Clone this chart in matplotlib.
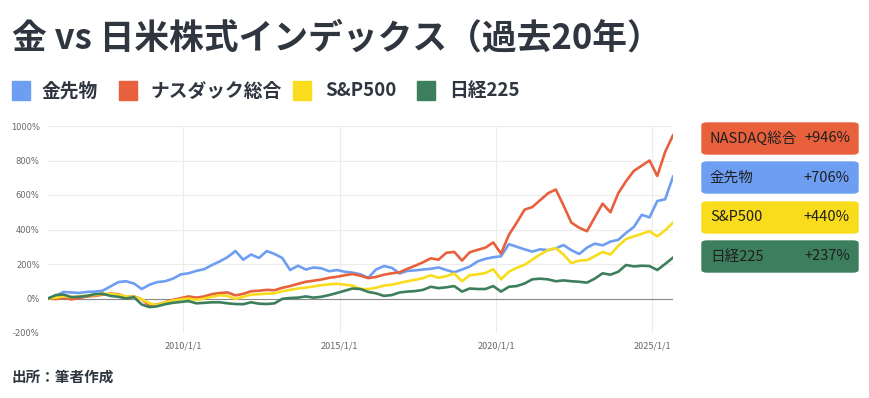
import numpy as np
import pandas as pd
import matplotlib.pyplot as plt
from matplotlib.patches import FancyBboxPatch, Rectangle

plt.rcParams['font.family'] = ['Noto Sans CJK JP', 'DejaVu Sans']

# quarterly samples, Sep 2005 -> Sep 2025 (cumulative return, %)
dates = pd.date_range("2005-09-01", periods=81, freq="3MS")

gold = [0, 15, 38, 35, 32, 38, 40, 45, 70, 95,
        100, 87, 55, 80, 95, 100, 115, 140, 146, 160,
        170, 194, 215, 240, 275, 225, 255, 235, 275, 258,
        235, 165, 190, 168, 180, 175, 158, 165, 155, 150,
        140, 120, 168, 188, 178, 145, 160, 163, 168, 172,
        180, 165, 152, 168, 185, 215, 230, 239, 245, 315,
        300, 285, 272, 285, 280, 291, 310, 280, 258, 295,
        318, 308, 330, 340, 380, 415, 485, 470, 565, 575, 706]

nasdaq = [0, -3, 5, -5, 3, 12, 15, 22, 28, 25,
          10, 12, -5, -42, -35, -22, -8, 2, 12, 5,
          12, 25, 32, 35, 18, 27, 42, 45, 50, 48,
          62, 72, 85, 97, 103, 110, 120, 126, 135, 142,
          132, 118, 125, 138, 146, 152, 172, 190, 210, 233,
          225, 265, 270, 220, 268, 282, 295, 325, 260, 369,
          440, 515, 530, 570, 610, 632, 540, 440, 410, 390,
          470, 550, 500, 610, 680, 740, 770, 800, 710, 850, 946]

sp500 = [0, 5, 12, 8, 12, 18, 20, 27, 25, 22,
         12, 10, -5, -28, -38, -22, -12, -5, 0, -8,
         0, 10, 19, 15, -3, 10, 22, 25, 28, 30,
         42, 50, 58, 63, 70, 77, 82, 85, 80, 75,
         55, 55, 62, 75, 80, 90, 100, 108, 118, 135,
         120, 130, 145, 100, 135, 140, 148, 170, 111, 155,
         178, 195, 225, 255, 280, 292, 255, 205, 220, 222,
         245, 270, 255, 305, 345, 360, 375, 390, 360, 395, 440]

nikkei = [0, 20, 23, 8, 10, 15, 25, 28, 15, 10,
          0, 8, -35, -50, -45, -33, -25, -20, -15, -28,
          -25, -22, -22, -28, -32, -33, -22, -30, -32, -28,
          -2, 3, 5, 12, 5, 10, 20, 32, 45, 58,
          55, 38, 30, 15, 20, 35, 40, 43, 50, 68,
          60, 65, 72, 40, 58, 55, 55, 72, 40, 68,
          72, 87, 111, 115, 111, 100, 105, 100, 97, 92,
          115, 146, 138, 155, 194, 186, 190, 188, 165, 200, 237]

legend_names = ["金先物", "ナスダック総合", "S&P500", "日経225"]
badge_names = ["NASDAQ総合", "金先物", "S&P500", "日経225"]
badge_values = ["+946%", "+706%", "+440%", "+237%"]

c_gold = "#6d9ef2"
c_nasdaq = "#e8603c"
c_sp = "#f9dc1c"
c_nikkei = "#3d7f5c"
text_col = "#2f3640"

fig = plt.figure(figsize=(8.7, 3.98), dpi=100)
ax = fig.add_axes([48 / 870, 1 - 333 / 398, 625 / 870, 207 / 398])

for s, c in [(gold, c_gold), (nasdaq, c_nasdaq), (sp500, c_sp), (nikkei, c_nikkei)]:
    ax.plot(dates, s, color=c, lw=1.9, zorder=3)

ax.axhline(0, color="#8a8a8a", lw=0.8, zorder=2)
ax.set_ylim(-200, 1000)
ax.set_xlim(dates[0], dates[-1])
ax.set_yticks(range(-200, 1001, 200))
ax.set_yticklabels([f"{v}%" for v in range(-200, 1001, 200)])
xt = pd.to_datetime(["2010-01-01", "2015-01-01", "2020-01-01", "2025-01-01"])
ax.set_xticks(xt)
ax.set_xticklabels(["2010/1/1", "2015/1/1", "2020/1/1", "2025/1/1"])
ax.grid(True, color="#ececec", lw=0.8, zorder=0)
for sp in ax.spines.values():
    sp.set_visible(False)
ax.tick_params(length=0, labelsize=6.5, colors="#666666", pad=6)
for lab in ax.get_yticklabels():
    lab.set_fontfamily(['DejaVu Sans'])
    lab.set_fontsize(6)

# title
fig.text(12 / 870, 1 - 38 / 398, "金 vs 日米株式インデックス（過去20年）", fontsize=25,
         fontweight="bold", color=text_col, va="center", ha="left")

# legend row
sq_x = [12, 119, 293, 417]
txt_x = [42, 150, 325, 449]
for x0, xt0, name, c in zip(sq_x, txt_x, legend_names, [c_gold, c_nasdaq, c_sp, c_nikkei]):
    fig.patches.append(Rectangle((x0 / 870, 1 - 100 / 398), 18 / 870, 19 / 398,
                                 transform=fig.transFigure, color=c))
    fig.text(xt0 / 870, 1 - 91 / 398, name, fontsize=13.5, fontweight="bold",
             color=text_col, va="center", ha="left")

# value badges
badge_cols = [c_nasdaq, c_gold, c_sp, c_nikkei]
tops = [123, 162, 202, 241]
for top, name, val, c in zip(tops, badge_names, badge_values, badge_cols):
    fig.patches.append(FancyBboxPatch((702 / 870, 1 - (top + 31) / 398), 156 / 870, 31 / 398,
                                      boxstyle="round,pad=0,rounding_size=0.006",
                                      transform=fig.transFigure, color=c))
    fig.text(710 / 870, 1 - (top + 15.5) / 398, name, fontsize=10.5, color="#1f1f1f",
             va="center", ha="left")
    fig.text(850 / 870, 1 - (top + 15.5) / 398, val, fontsize=10.5, color="#1f1f1f",
             va="center", ha="right")

fig.text(12 / 870, 1 - 377 / 398, "出所：筆者作成", fontsize=10.5, fontweight="bold",
         color=text_col, va="center", ha="left")

fig.savefig("out.png", dpi=100, facecolor="white")
